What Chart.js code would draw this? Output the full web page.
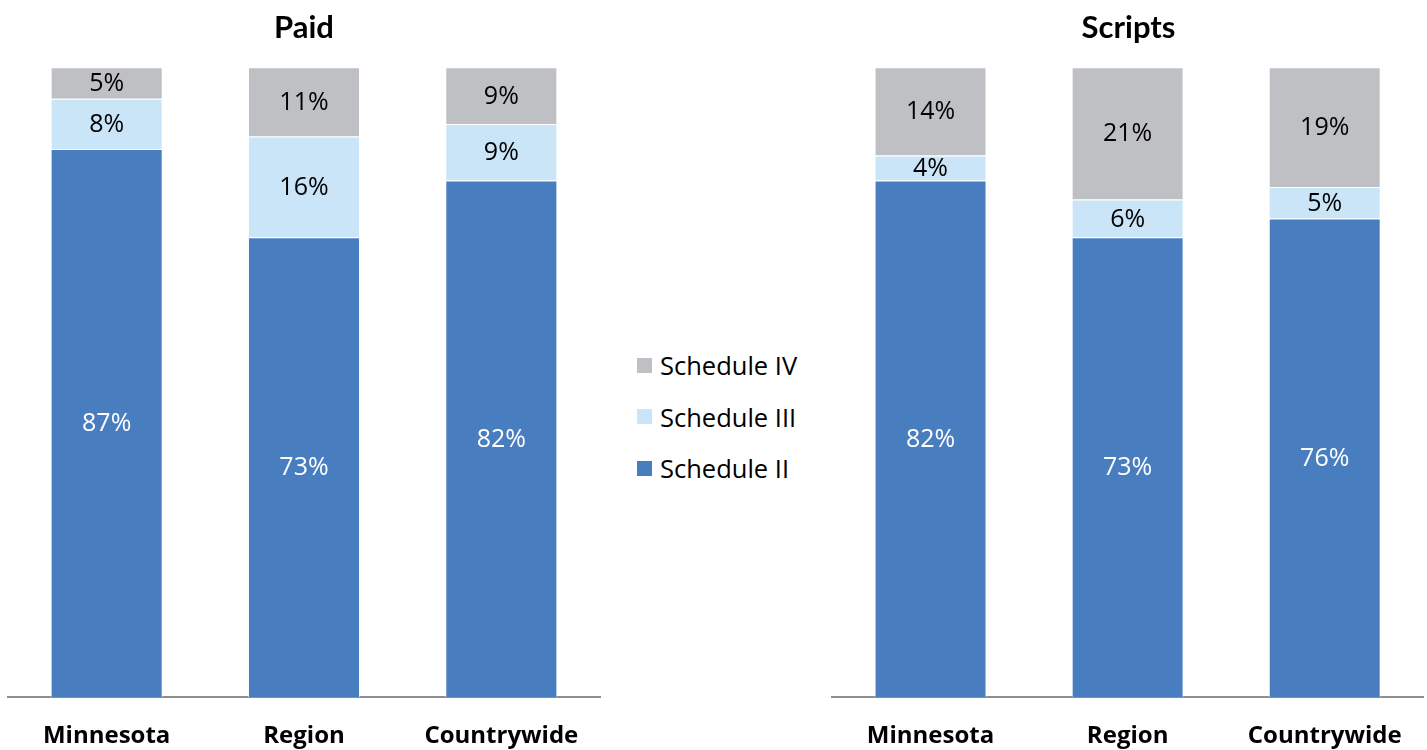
<!DOCTYPE html>
<html>
<head>
<meta charset="utf-8">
<script src="https://cdn.jsdelivr.net/npm/chart.js@4/dist/chart.umd.min.js"></script>
<style>
  html, body { margin: 0; padding: 0; background: #fff; }
  body { width: 1427px; height: 750px; position: relative; overflow: hidden; font-family: "Open Sans", sans-serif; }
  .panel { position: absolute; top: 0; height: 750px; }
  #legend { position: absolute; left: 637px; top: 348px; }
  .legend-item { display: flex; align-items: center; height: 34px; margin-bottom: 17.5px; font-size: 25.5px; color: #000; }
  .legend-item span.box { width: 15px; height: 15px; margin-right: 8px; display: inline-block; }
</style>
</head>
<body>
<div class="panel" style="left:0;width:610px"><canvas id="paidChart" width="610" height="750"></canvas></div>
<div class="panel" style="left:820px;width:607px"><canvas id="scriptsChart" width="607" height="750"></canvas></div>
<div id="legend"></div>

<script>
const categories = ['Minnesota', 'Region', 'Countrywide'];
const seriesNames = ['Schedule II', 'Schedule III', 'Schedule IV'];
const seriesColors = ['#487DC0', '#CAE5F7', '#BFC0C4'];
const labelColors = ['#ffffff', '#000000', '#000000'];

// percent shares, one array per schedule
const paidII = [87, 73, 82];
const paidIII = [8, 16, 9];
const paidIV = [5, 11, 9];

const scriptsII = [82, 73, 76];
const scriptsIII = [4, 6, 5];
const scriptsIV = [14, 21, 19];

const FONT = '"Open Sans", sans-serif';
const TITLE_FONT = 'Lato, "Open Sans", sans-serif';

// writes each segment's value in the middle of the segment
const segmentLabels = {
  id: 'segmentLabels',
  afterDatasetsDraw(chart) {
    const ctx = chart.ctx;
    ctx.save();
    ctx.font = '25px ' + FONT;
    ctx.textAlign = 'center';
    ctx.textBaseline = 'middle';
    chart.data.datasets.forEach((ds, i) => {
      const meta = chart.getDatasetMeta(i);
      meta.data.forEach((bar, j) => {
        const { x, y, base } = bar.getProps(['x', 'y', 'base'], true);
        ctx.fillStyle = labelColors[i];
        ctx.fillText(ds.data[j] + '%', x, (y + base) / 2 + 1);
      });
    });
    ctx.restore();
  }
};

function makeChart(id, title, values, pad) {
  const ctx = document.getElementById(id).getContext('2d');
  return new Chart(ctx, {
    type: 'bar',
    data: {
      labels: categories,
      datasets: values.map((v, i) => ({
        label: seriesNames[i],
        data: v,
        backgroundColor: seriesColors[i],
        borderColor: 'rgba(255,255,255,0.7)',
        borderWidth: 1,
        borderSkipped: 'bottom',
        barPercentage: 1,
        categoryPercentage: 0.568
      }))
    },
    options: {
      responsive: false,
      animation: false,
      layout: { padding: pad },
      plugins: {
        legend: { display: false },
        tooltip: { enabled: false },
        title: {
          display: true,
          text: title,
          color: '#000',
          font: { family: TITLE_FONT, size: 31, weight: 'bold' },
          padding: { top: 9.5, bottom: 20.5 }
        }
      },
      scales: {
        x: {
          stacked: true,
          grid: { display: false, drawTicks: false },
          border: { display: true, color: '#8E8E8E', width: 2 },
          ticks: {
            color: '#000',
            padding: 25,
            font: { family: FONT, size: 24, weight: 'bold' }
          }
        },
        y: {
          stacked: true,
          display: false,
          min: 0,
          max: 100
        }
      }
    },
    plugins: [segmentLabels]
  });
}

makeChart('paidChart', 'Paid', [paidII, paidIII, paidIV], { left: 8, right: 10, top: 0, bottom: -26 });
makeChart('scriptsChart', 'Scripts', [scriptsII, scriptsIII, scriptsIV], { left: 12, right: 2, top: 0, bottom: -26 });

// shared legend, listed top-down from Schedule IV
const legend = document.getElementById('legend');
for (let i = seriesNames.length - 1; i >= 0; i--) {
  const item = document.createElement('div');
  item.className = 'legend-item';
  item.innerHTML = '<span class="box" style="background:' + seriesColors[i] + '"></span>' + seriesNames[i];
  legend.appendChild(item);
}
</script>
</body>
</html>
